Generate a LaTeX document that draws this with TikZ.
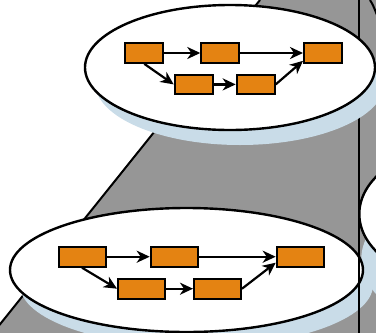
\documentclass[tikz,border=0pt]{standalone}
\usepackage{tikz}
\usetikzlibrary{arrows.meta, positioning}
\definecolor{stepgray}{RGB}{150,150,150}
\definecolor{taskorange}{RGB}{228,131,18}
\definecolor{shadowblue}{RGB}{201,220,232}

\begin{document}
\begin{tikzpicture}[
    x=1pt, y=-1pt,
    task/.style={draw, line width=2pt, fill=taskorange, inner sep=0pt, minimum width=38pt, minimum height=19.7pt},
    bigtask/.style={task, minimum width=47pt, minimum height=20pt},
    arrow/.style={-{Stealth[length=13pt, width=12pt, inset=4pt]}, line width=2.2pt},
    plate/.style={draw, line width=2.4pt, fill=white},
    plateshadow/.style={fill=shadowblue}
]
\useasboundingbox (0,0) rectangle (376,333);
\clip (0,0) rectangle (376,333);

% Background
\fill[stepgray] (260,0) -- (376,0) -- (376,333) -- (-7,333) -- cycle;
\draw[line width=2pt] (260,0) -- (-7,333);

% Plates
\fill[plateshadow] (471.3,259) ellipse [x radius=110pt, y radius=70pt];
\draw[plate] (469.3,214) ellipse [x radius=110pt, y radius=70pt];
\draw[line width=2pt] (370,0) .. controls (373,5) .. (377,15);

\fill[plateshadow] (196.5,285) ellipse [x radius=176.5pt, y radius=62pt];
\draw[plate] (186.5,270) ellipse [x radius=176.5pt, y radius=62pt];

\draw[line width=2pt] (358.5,0) -- (358.5,333);

\fill[plateshadow] (240,82.5) ellipse [x radius=145pt, y radius=62.5pt];
\draw[plate] (230,67.5) ellipse [x radius=145pt, y radius=62.5pt];

% Nodes
\node[task] (t1) at (144.3,53) {};
\node[task, right=36pt of t1] (t2) {};
\node[task, right=62.7pt of t2] (t3) {};
\node[task, below right=9.7pt and 9.4pt of t1] (t4) {};
\node[task, right=22pt of t4] (t5) {};

\node[bigtask] (b1) at (82,256.7) {};
\node[bigtask, right=43.2pt of b1] (b2) {};
\node[bigtask, right=77pt of b2] (b3) {};
\node[bigtask, below right=10pt and 10.5pt of b1] (b4) {};
\node[bigtask, right=27pt of b4] (b5) {};

% Edges
\draw[arrow] (t1) -- (t2);
\draw[arrow] (t2) -- (t3);
\draw[arrow] (t1.south) -- (t4.west);
\draw[arrow] (t4) -- (t5);
\draw[arrow] (t5.east) -- ([yshift=3pt]t3.south west);

\draw[arrow] (b1) -- (b2);
\draw[arrow] (b2) -- (b3);
\draw[arrow] (b1.south) -- (b4.west);
\draw[arrow] (b4) -- (b5);
\draw[arrow] (b5.east) -- ([yshift=5pt]b3.south west);

\end{tikzpicture}
\end{document}
